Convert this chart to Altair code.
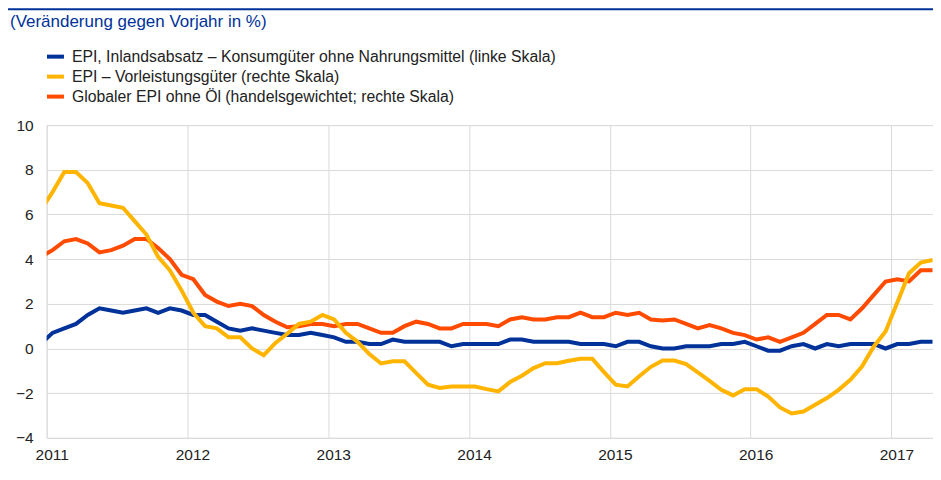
import altair as alt
import pandas as pd

# Monthly observations Dec 2010 .. Apr 2017 (first one is clipped at the left edge)
start_year, start_month, n_months = 2010, 12, 77

epi_konsum = [0.2, 0.7, 0.9, 1.1, 1.5, 1.8, 1.7, 1.6, 1.7, 1.8, 1.6, 1.8, 1.7, 1.5, 1.5, 1.2,
              0.9, 0.8, 0.9, 0.8, 0.7, 0.6, 0.6, 0.7, 0.6, 0.5, 0.3, 0.3, 0.2, 0.2, 0.4, 0.3,
              0.3, 0.3, 0.3, 0.1, 0.2, 0.2, 0.2, 0.2, 0.4, 0.4, 0.3, 0.3, 0.3, 0.3, 0.2, 0.2,
              0.2, 0.1, 0.3, 0.3, 0.1, 0.0, 0.0, 0.1, 0.1, 0.1, 0.2, 0.2, 0.3, 0.1, -0.1, -0.1,
              0.1, 0.2, 0.0, 0.2, 0.1, 0.2, 0.2, 0.2, 0.0, 0.2, 0.2, 0.3, 0.3]

epi_vorleistung = [6.2, 7.0, 7.9, 7.9, 7.4, 6.5, 6.4, 6.3, 5.7, 5.1, 4.1, 3.5, 2.6, 1.6, 1.0, 0.9,
                   0.5, 0.5, 0.0, -0.3, 0.25, 0.66, 1.1, 1.2, 1.5, 1.3, 0.7, 0.3, -0.25, -0.67, -0.57, -0.57,
                   -1.1, -1.62, -1.77, -1.7, -1.7, -1.7, -1.82, -1.92, -1.5, -1.22, -0.88, -0.66, -0.66, -0.55, -0.46, -0.46,
                   -1.06, -1.62, -1.7, -1.24, -0.82, -0.54, -0.54, -0.7, -1.07, -1.45, -1.85, -2.1, -1.82, -1.82,
                   -2.15, -2.64, -2.91, -2.82, -2.52, -2.22, -1.85, -1.4, -0.8, 0.09, 0.76, 2.06, 3.37, 3.85, 3.96]

global_epi = [4.1, 4.4, 4.8, 4.9, 4.7, 4.3, 4.4, 4.6, 4.9, 4.9, 4.5, 4.0, 3.3, 3.1, 2.4, 2.1,
              1.9, 2.0, 1.9, 1.5, 1.2, 0.95, 1.0, 1.1, 1.1, 1.0, 1.1, 1.1, 0.9, 0.7, 0.7, 1.0,
              1.2, 1.1, 0.9, 0.9, 1.1, 1.1, 1.1, 1.0, 1.3, 1.4, 1.3, 1.3, 1.4, 1.4, 1.6, 1.4,
              1.4, 1.6, 1.5, 1.6, 1.3, 1.25, 1.3, 1.1, 0.9, 1.05, 0.9, 0.7, 0.6, 0.4, 0.5, 0.3,
              0.5, 0.7, 1.1, 1.5, 1.5, 1.3, 1.8, 2.4, 3.0, 3.1, 3.0, 3.5, 3.5]

series_names = [
    "EPI, Inlandsabsatz – Konsumgüter ohne Nahrungsmittel (linke Skala)",
    "EPI – Vorleistungsgüter (rechte Skala)",
    "Globaler EPI ohne Öl (handelsgewichtet; rechte Skala)",
]
series_colors = ["#003299", "#ffb400", "#ff4b00"]
title_text = "(Veränderung gegen Vorjahr in %)"
year_ticks = [2011, 2012, 2013, 2014, 2015, 2016, 2017]
y_ticks = [-4, -2, 0, 2, 4, 6, 8, 10]

# month positions (mid-month, in fractional years)
t = []
for i in range(n_months):
    m = start_month - 1 + i
    t.append(start_year + m // 12 + ((m % 12) + 0.5) / 12)

rows = []
for name, vals in zip(series_names, [epi_konsum, epi_vorleistung, global_epi]):
    for ti, v in zip(t, vals):
        rows.append({"t": ti, "value": v, "series": name})
df = pd.DataFrame(rows)

FONT = "Liberation Sans"
W, H = 887, 313
PAD_L, PAD_T = 38.7, 117

color_scale = alt.Scale(domain=series_names, range=series_colors)
legend = alt.Legend(
    title=None, orient="none", legendX=-1.7, legendY=-79, direction="vertical",
    symbolType="stroke", symbolStrokeWidth=4, symbolSize=289,
    labelFont=FONT, labelFontSize=15.8, labelColor="#222222", labelOffset=6,
    labelLimit=800, rowPadding=1, padding=0, values=series_names,
)

x_enc = alt.X("t:Q", scale=alt.Scale(domain=[2011, 2011 + W / 140.9], nice=False, zero=False),
              axis=alt.Axis(values=year_ticks, format="d", title=None, grid=True, domain=False,
                            ticks=False, tickSize=0, labelPadding=10, labelOffset=5,
                            labelFlush=False,
                            labelFont=FONT, labelFontSize=15.5, labelColor="#222222",
                            gridColor="#dadada", gridWidth=1))
y_enc = alt.Y("value:Q", scale=alt.Scale(domain=[-4, 10], nice=False),
              axis=alt.Axis(values=y_ticks, title=None, grid=True, domain=False,
                            ticks=False, tickSize=0, labelPadding=13.5,
                            labelFont=FONT, labelFontSize=15.5, labelColor="#222222",
                            gridColor="#dadada", gridWidth=1))


def line(name):
    return (
        alt.Chart(df)
        .transform_filter(alt.datum.series == name)
        .mark_line(strokeWidth=4, clip=True)
        .encode(x=x_enc, y=y_enc,
                color=alt.Color("series:N", scale=color_scale, legend=legend))
    )


title_layer = alt.Chart(pd.DataFrame({"txt": [title_text]})).mark_text(
    align="left", baseline="middle", font=FONT, fontSize=17, color="#003299"
).encode(x=alt.value(10 - 46.7), y=alt.value(22 - 125), text="txt:N")

top_rule = alt.Chart(pd.DataFrame({"a": [0]})).mark_rule(
    color="#003299", strokeWidth=2
).encode(x=alt.value(-PAD_L), x2=alt.value(W), y=alt.value(-PAD_T + 1))

chart = (
    alt.layer(top_rule, title_layer, line(series_names[2]), line(series_names[0]), line(series_names[1]))
    .properties(width=W, height=H,
                autosize=alt.AutoSizeParams(type="none"),
                padding={"left": PAD_L, "top": PAD_T, "right": 0, "bottom": 34})
    .configure_view(stroke=None)
    .configure(background="white")
)

chart.save("out.html", embed_options={"renderer": "svg", "actions": False})
